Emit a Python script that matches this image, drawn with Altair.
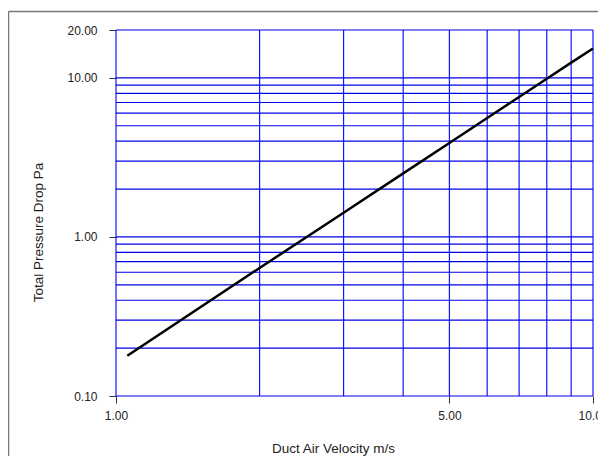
import altair as alt
import pandas as pd

# Data (log-log straight line)
velocity = [1.056, 2, 3, 4, 5, 6, 7, 8, 9, 10]
pressure = [0.179, 0.638, 1.42, 2.51, 3.90, 5.60, 7.59, 9.88, 12.47, 15.3]

x_grid = [1, 2, 3, 4, 5, 6, 7, 8, 9, 10]
y_grid = [0.1, 0.2, 0.3, 0.4, 0.5, 0.6, 0.7, 0.8, 0.9, 1, 2, 3, 4, 5, 6, 7, 8, 9, 10, 20]
x_ticks = [1, 5, 10]
y_ticks = [0.1, 1, 10, 20]

FONT = "Liberation Sans, Arial, sans-serif"

xscale = alt.Scale(type="log", domain=[1, 10], nice=False)
yscale = alt.Scale(type="log", domain=[0.1, 20], nice=False)

x_axis = alt.Axis(
    values=x_ticks,
    format=".2f",
    grid=False,
    domain=False,
    ticks=True,
    tickColor="#333333",
    tickSize=7,
    labelFont=FONT,
    labelFontSize=12,
    labelColor="#222222",
    labelPadding=7,
    labelFlush=False,
    labelOverlap=False,
    title="Duct Air Velocity m/s",
    titleFont=FONT,
    titleFontSize=13.5,
    titleFontWeight="normal",
    titleColor="#222222",
    titleAlign="center",
    titleBaseline="alphabetic",
    titleX=217,
    titleY=56,
)

y_axis = alt.Axis(
    values=y_ticks,
    format=".2f",
    grid=False,
    domain=False,
    ticks=True,
    tickColor="#333333",
    tickSize=7,
    labelFont=FONT,
    labelFontSize=12,
    labelColor="#222222",
    labelPadding=12,
    labelFlush=False,
    labelOverlap=False,
    title="Total Pressure Drop Pa",
    titleFont=FONT,
    titleFontSize=13.5,
    titleFontWeight="normal",
    titleColor="#222222",
    titleAngle=270,
    titleAlign="center",
    titleBaseline="middle",
    titleX=-78,
    titleY=202,
)

line_df = pd.DataFrame({"v": velocity, "p": pressure})

vgrid = alt.Chart(pd.DataFrame({"v": x_grid})).mark_rule(
    color="#1414ff", strokeWidth=1.2
).encode(x=alt.X("v:Q", scale=xscale, axis=x_axis))

hgrid = alt.Chart(pd.DataFrame({"p": y_grid})).mark_rule(
    color="#0000e6", strokeWidth=1.2
).encode(y=alt.Y("p:Q", scale=yscale, axis=y_axis))

line = alt.Chart(line_df).mark_line(color="black", strokeWidth=2.5).encode(
    x=alt.X("v:Q", scale=xscale, axis=x_axis),
    y=alt.Y("p:Q", scale=yscale, axis=y_axis),
)

border_left = alt.Chart(pd.DataFrame({"a": [0]})).mark_rule(
    color="#777777", strokeWidth=1.5
).encode(x=alt.value(-107.5), y=alt.value(-18.5), y2=alt.value(500))

border_top = alt.Chart(pd.DataFrame({"a": [0]})).mark_rule(
    color="#777777", strokeWidth=1.5
).encode(y=alt.value(-18.5), x=alt.value(-107.5), x2=alt.value(700))

chart = alt.layer(vgrid, hgrid, line, border_left, border_top).properties(
    width=477,
    height=366,
    padding={"left": 108, "top": 22, "right": 5, "bottom": 60},
    autosize=alt.AutoSizeParams(type="none"),
    background="white",
).configure_view(strokeWidth=0)

chart.save("out.html", embed_options={"renderer": "svg", "actions": False})
